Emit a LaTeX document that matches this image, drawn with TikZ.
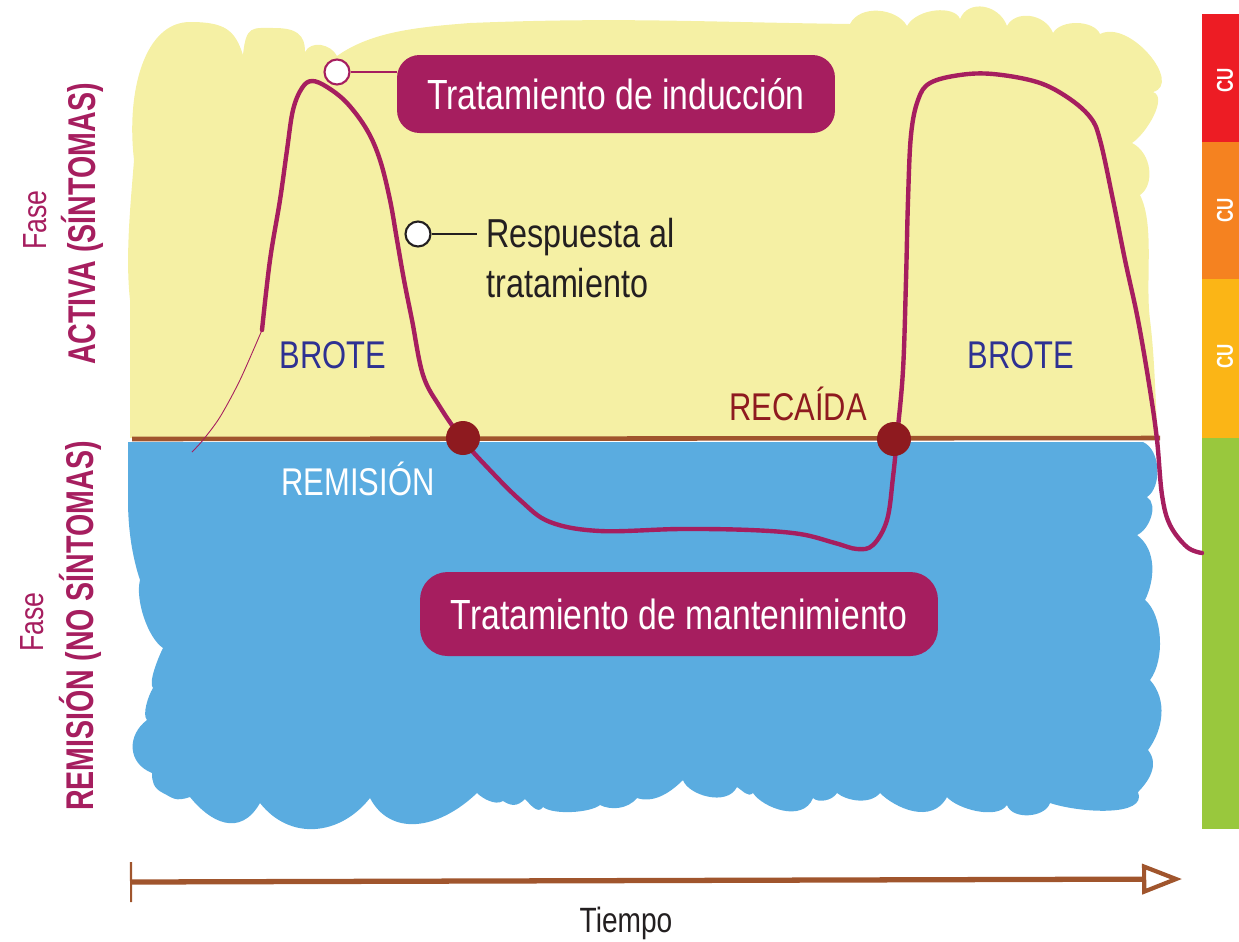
\documentclass[tikz,border=0pt]{standalone}
\usepackage{fontspec}
\setmainfont{Liberation Sans}
\newfontfamily\condfont{Liberation Sans}[FakeStretch=0.8]
\newfontfamily\condbold{Liberation Sans Bold}[FakeStretch=0.74]
\usepackage{xcolor}
\usetikzlibrary{positioning,arrows.meta}

\definecolor{plum}{RGB}{166,30,95}
\definecolor{activeyellow}{RGB}{245,240,164}
\definecolor{remissionblue}{RGB}{90,172,224}
\definecolor{rust}{RGB}{160,85,45}
\definecolor{dotred}{RGB}{142,26,31}
\definecolor{navytext}{RGB}{46,49,146}
\definecolor{inkblack}{RGB}{35,31,32}
\definecolor{cured}{RGB}{237,28,36}
\definecolor{cuorange}{RGB}{245,130,32}
\definecolor{cuyellow}{RGB}{251,181,22}
\definecolor{cugreen}{RGB}{153,200,61}

\begin{document}
\begin{tikzpicture}[x=0.02cm, y=-0.02cm,
    tagbox/.style={rectangle, rounded corners=0.45cm, fill=plum, text=white, inner sep=0pt, font=\condfont\fontsize{24}{28}\selectfont},
    zonetext/.style={inner sep=0pt, anchor=base, font=\condfont\fontsize{22}{26}\selectfont},
    fasetext/.style={inner sep=0pt, rotate=90, text=plum, font=\condfont\fontsize{19}{22}\selectfont},
    phasename/.style={inner sep=0pt, rotate=90, text=plum, font=\condbold\fontsize{22}{26}\selectfont},
    cutag/.style={inner sep=0pt, rotate=90, text=white, font=\condbold\fontsize{13}{15}\selectfont},
    hollow/.style={circle, draw=#1, fill=white, line width=1.2pt, minimum size=0.5cm, inner sep=0pt},
    event/.style={circle, fill=dotred, minimum size=0.68cm, inner sep=0pt},
    course/.style={plum, line width=2.5pt, line cap=round, line join=round},
    phaseline/.style={rust, line width=2.6pt},
    timearrow/.style={rust, line width=3pt, {Bar[width=0.8cm,line width=1.2pt]}-{Triangle[open,length=0.8cm,width=0.6cm,line width=2.4pt]}}]

    \useasboundingbox (0,0) rectangle (1239,941);

    % active phase (yellow)
    \fill[activeyellow] (130,438) -- (130,300)
        .. controls +(-5,-45) and +(-3,40) .. (134,160)
        .. controls +(-8,-70) and +(-45,0) .. (190,22)
        .. controls +(35,0) and +(-8,-25) .. (243,55)
        .. controls +(3,-30) and +(-22,0) .. (274,28)
        .. controls +(22,0) and +(0,-18) .. (305,52)
        .. controls +(6,-12) and +(-6,-12) .. (337,56)
        .. controls +(35,-25) and +(-50,4) .. (470,23)
        .. controls +(150,-6) and +(-150,-2) .. (850,24)
        .. controls +(10,-20) and +(-10,-18) .. (907,26)
        .. controls +(10,-18) and +(-5,-14) .. (960,19)
        .. controls +(8,-20) and +(-8,-22) .. (1007,26)
        .. controls +(8,-16) and +(-8,-20) .. (1053,33)
        .. controls +(8,-14) and +(-6,-14) .. (1100,34)
        .. controls +(30,-15) and +(30,-8) .. (1153,92)
        .. controls +(15,5) and +(15,-10) .. (1132,143)
        .. controls +(20,10) and +(15,-10) .. (1140,195)
        .. controls +(15,30) and +(-5,-40) .. (1150,320)
        .. controls +(5,40) and +(-3,-40) .. (1158,438)
        -- cycle;

    % remission phase (blue)
    \fill[remissionblue] (128,442) -- (1143,442)
        .. controls +(18,8) and +(15,-10) .. (1147,497)
        .. controls +(12,8) and +(12,-5) .. (1137,535)
        .. controls +(20,15) and +(10,-20) .. (1145,600)
        .. controls +(18,15) and +(15,-20) .. (1150,680)
        .. controls +(18,20) and +(15,-20) .. (1148,750)
        .. controls +(12,15) and +(10,-10) .. (1138,792)
        .. controls +(10,25) and +(30,10) .. (1050,803)
        .. controls +(-5,15) and +(5,15) .. (1007,805)
        .. controls +(-10,15) and +(10,12) .. (947,797)
        .. controls +(-15,28) and +(15,15) .. (880,793)
        .. controls +(-10,12) and +(10,8) .. (837,793)
        .. controls +(-5,8) and +(5,5) .. (813,798)
        .. controls +(-10,25) and +(10,15) .. (753,793)
        .. controls +(-5,5) and +(5,3) .. (737,787)
        .. controls +(-10,20) and +(5,15) .. (683,780)
        .. controls +(-15,15) and +(15,5) .. (637,798)
        .. controls +(-10,12) and +(10,5) .. (600,805)
        .. controls +(-10,8) and +(10,8) .. (543,807)
        .. controls +(-5,8) and +(5,5) .. (525,799)
        .. controls +(-8,8) and +(8,5) .. (503,801)
        .. controls +(-8,5) and +(5,5) .. (477,793)
        .. controls +(-40,38) and +(20,38) .. (370,798)
        .. controls +(-30,38) and +(30,38) .. (260,803)
        .. controls +(-20,35) and +(20,25) .. (190,797)
        .. controls +(-15,5) and +(10,5) .. (163,793)
        .. controls +(-10,-5) and +(0,8) .. (152,773)
        .. controls +(-25,-10) and +(-20,15) .. (147,720)
        .. controls +(-5,-5) and +(-5,8) .. (153,688)
        .. controls +(-5,-5) and +(-5,10) .. (163,648)
        .. controls +(-15,-10) and +(-5,20) .. (140,580)
        .. controls +(-10,-30) and +(0,20) .. (128,500)
        -- cycle;

    \coordinate (lineL) at (132,439);
    \coordinate (lineR) at (1160,438);
    \draw[phaseline] (lineL) -- (lineR);

    % severity bar
    \fill[cured] (1202,14) rectangle (1239,142);
    \fill[cuorange] (1202,142) rectangle (1239,279);
    \fill[cuyellow] (1202,279) rectangle (1239,438);
    \fill[cugreen] (1202,438) rectangle (1239,829);
    \node[cutag] (cu1) at (1225,80) {CU};
    \node[cutag] (cu2) at (1225,210) {CU};
    \node[cutag] (cu3) at (1225,356) {CU};

    % disease course
    \draw[plum, line width=0.5pt] plot[smooth] coordinates {(192,452) (203,440) (220,417) (240,380) (262,330)};
    \draw[course] plot[smooth, tension=0.6] coordinates {(262,330) (270,260) (280,200) (287,150) (293,110) (302,88) (312,81) (327,87) (347,103) (367,130) (380,160) (390,200) (397,240) (404,280) (412,320) (423,375) (440,407) (463,440) (487,467) (520,500) (550,522) (600,531) (680,529) (750,530) (800,534) (835,543) (857,549) (873,545) (887,520) (893,477) (897,437) (903,370) (906,280) (908,200) (911,135) (918,100) (930,83) (960,75) (993,74) (1037,82) (1067,97) (1090,117) (1100,140) (1113,200) (1125,260) (1138,320) (1150,390) (1157,440) (1162,495) (1170,525) (1187,547) (1202,553)};

    \node[event] (remit) at (463,438) {};
    \node[event] (relapse) at (894,439) {};

    % labels
    \node[zonetext, text=navytext] (brote1) at (333,368) {BROTE};
    \node[zonetext, text=navytext] (brote2) at (1021,368) {BROTE};
    \node[zonetext, text=white] (remtext) at (358,495) {REMISIÓN};
    \node[zonetext, text=dotred] (recaida) at (798,420) {RECAÍDA};

    \node[tagbox, minimum width=8.76cm, minimum height=1.56cm] (induction) at (616,94) {Tratamiento de inducción};
    \node[tagbox, minimum width=10.36cm, minimum height=1.68cm, rounded corners=0.55cm] (maintenance) at (679,614) {Tratamiento de mantenimiento};

    \node[hollow=plum] (peak) at (337,72) {};
    \draw[plum, line width=1.2pt] (peak) -- (peak -| induction.west);

    \node[hollow=inkblack] (response) at (418,234) {};
    \node[inner sep=0pt, anchor=west, align=left, text=inkblack, font=\condfont\fontsize{23}{28.3}\selectfont] (responsetext) at (486,258) {Respuesta al\\tratamiento};
    \draw[inkblack, line width=1.2pt, shorten >=0.18cm] (response) -- (response -| responsetext.west);

    % phase names
    \node[fasetext] (faseA) at (35,220) {Fase};
    \node[phasename] (activa) at (82,224) {ACTIVA (SÍNTOMAS)};
    \node[fasetext] (faseR) at (32,622) {Fase};
    \node[phasename] (remision) at (80,626) {REMISIÓN (NO SÍNTOMAS)};

    % time axis
    \coordinate (t0) at (130,882);
    \coordinate (t1) at (1182,879);
    \draw[timearrow] (t0) -- (t1);
    \node[zonetext, text=inkblack, font=\condfont\fontsize{20}{24}\selectfont] (tiempo) at (626,932) {Tiempo};

\end{tikzpicture}
\end{document}
